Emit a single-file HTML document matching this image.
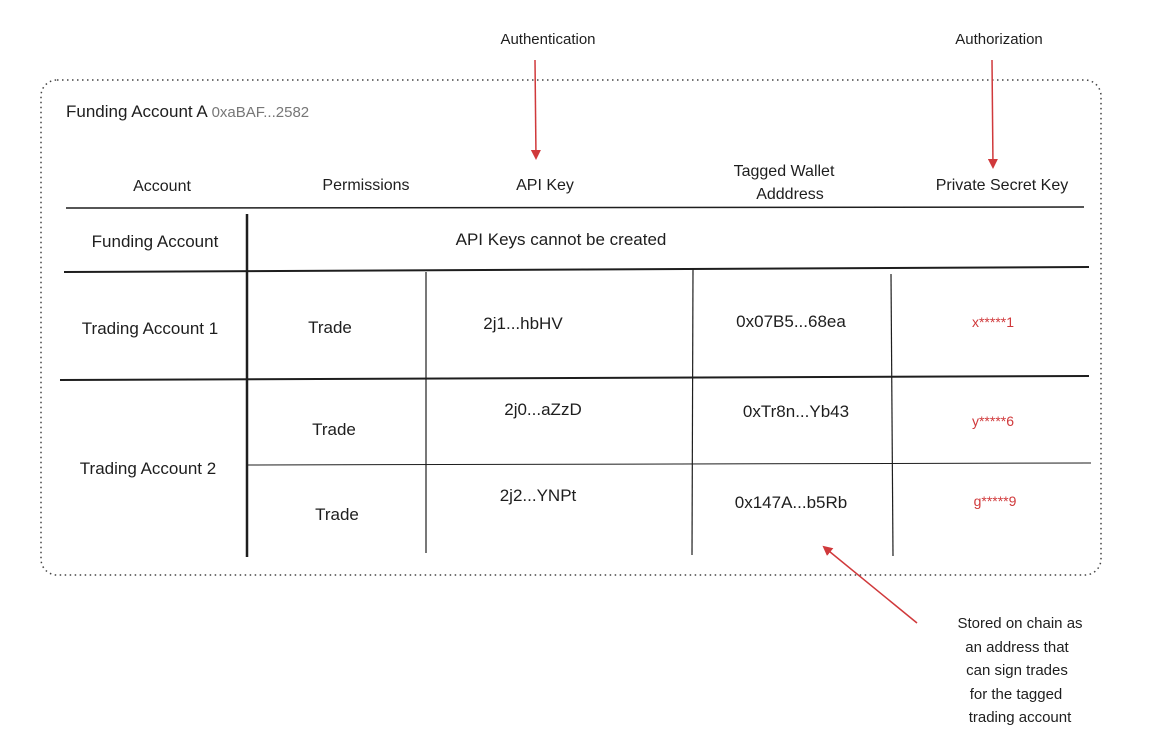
<!DOCTYPE html>
<html><head><meta charset="utf-8"><style>
html,body{margin:0;padding:0;background:#fff;width:1150px;height:742px;overflow:hidden}
svg{position:absolute;left:0;top:0}
text{font-family:"Liberation Sans",sans-serif;fill:#1e1e1e}
text.r{fill:#d0393b}
</style></head><body>
<svg width="1150" height="742" viewBox="0 0 1150 742">
<defs><marker id="ah" markerWidth="10" markerHeight="10" refX="8" refY="5" orient="auto" markerUnits="userSpaceOnUse"><path d="M0,0 L10,5 L0,10 z" fill="#d0393b"/></marker></defs>
<rect x="41" y="80" width="1060" height="495" rx="16" fill="none" stroke="#444" stroke-width="1.5" stroke-dasharray="1.5 3.5"/>
<text x="66" y="117" font-size="17">Funding Account A <tspan style="fill:#777" font-size="15">0xaBAF...2582</tspan></text>
<g font-size="16" text-anchor="middle">
<text x="162" y="191">Account</text>
<text x="366" y="190">Permissions</text>
<text x="545" y="190">API Key</text>
<text x="784" y="176">Tagged Wallet</text>
<text x="790" y="199">Adddress</text>
<text x="1002" y="190">Private Secret Key</text>
<text x="548" y="44" font-size="15">Authentication</text>
<text x="999" y="44" font-size="15">Authorization</text>
</g>
<g stroke="#1e1e1e" fill="none">
<line x1="66" y1="208" x2="1084" y2="207" stroke-width="1.5"/>
<line x1="247" y1="214" x2="247" y2="557" stroke-width="2.5"/>
<line x1="64" y1="272" x2="1089" y2="267" stroke-width="2"/>
<line x1="60" y1="380" x2="1089" y2="376" stroke-width="2"/>
<line x1="247" y1="465" x2="1091" y2="463" stroke-width="1"/>
<line x1="426" y1="272" x2="426" y2="553" stroke-width="1.2"/>
<line x1="693" y1="269" x2="692" y2="555" stroke-width="1.2"/>
<line x1="891" y1="274" x2="893" y2="556" stroke-width="1.2"/>
</g>
<g font-size="17" text-anchor="middle">
<text x="155" y="247">Funding Account</text>
<text x="561" y="245">API Keys cannot be created</text>
<text x="150" y="334">Trading Account 1</text>
<text x="148" y="474">Trading Account 2</text>
<text x="330" y="333">Trade</text>
<text x="334" y="435">Trade</text>
<text x="337" y="520">Trade</text>
<text x="523" y="329">2j1...hbHV</text>
<text x="543" y="415">2j0...aZzD</text>
<text x="538" y="501">2j2...YNPt</text>
<text x="791" y="327">0x07B5...68ea</text>
<text x="796" y="417">0xTr8n...Yb43</text>
<text x="791" y="508">0x147A...b5Rb</text>
</g>
<g font-size="14" text-anchor="middle">
<text class="r" x="993" y="327">x*****1</text>
<text class="r" x="993" y="426">y*****6</text>
<text class="r" x="995" y="506">g*****9</text>
</g>
<g stroke="#d0393b" stroke-width="1.5" fill="none" marker-end="url(#ah)">
<line x1="535" y1="60" x2="536" y2="158"/>
<line x1="992" y1="60" x2="993" y2="167"/>
<line x1="917" y1="623" x2="824" y2="547"/>
</g>
<g font-size="15" text-anchor="middle">
<text x="1020" y="628">Stored on chain as</text>
<text x="1017" y="652">an address that</text>
<text x="1017" y="675">can sign trades</text>
<text x="1016" y="699">for the tagged</text>
<text x="1020" y="722">trading account</text>
</g>
</svg>
</body></html>
